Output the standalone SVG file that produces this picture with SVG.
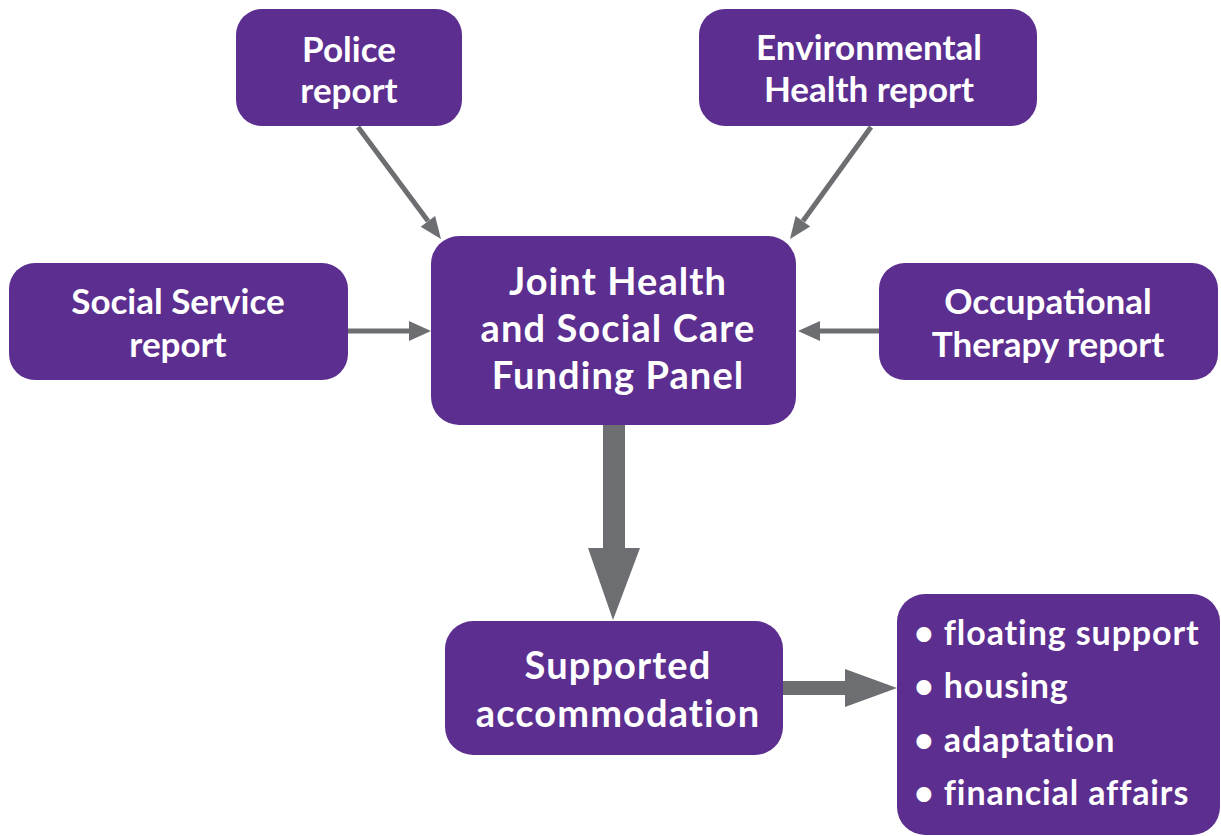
<svg xmlns="http://www.w3.org/2000/svg" width="1221" height="836" viewBox="0 0 1221 836">
<style>
.box{fill:#5b2e8f}
.t{fill:#fff;font-family:Lato,"Open Sans",sans-serif;font-weight:bold;text-anchor:middle}
.s{font-size:35px}
.b{font-size:38px;letter-spacing:1.1px}
.l{font-size:34px;text-anchor:start;letter-spacing:0.9px}
.ln{stroke:#6d6e71;stroke-width:5;fill:none}
.ah{fill:#6d6e71}
</style>
<rect width="1221" height="836" fill="#fff"/>
<g id="connectors">
<line class="ln" x1="358" y1="127" x2="428" y2="221"/>
<polygon class="ah" points="420.7,226.7 435.1,215.9 441,239"/>
<line class="ln" x1="871" y1="127" x2="803" y2="221"/>
<polygon class="ah" points="810.2,226.5 795.6,215.9 790,239"/>
<line class="ln" x1="348" y1="331" x2="411" y2="331"/>
<polygon class="ah" points="409,321 431,331 409,341"/>
<line class="ln" x1="879" y1="331" x2="818" y2="331"/>
<polygon class="ah" points="820,321 798,331 820,341"/>
<polygon class="ah" points="603,425 625,425 625,548 640,548 613,620 588,548 603,548"/>
<polygon class="ah" points="783,681 845,681 845,669 897,688 845,707 845,695 783,695"/>
</g>
<g id="police">
<rect class="box" x="236" y="9" width="226" height="117" rx="26"/>
<text class="t s" x="349" y="62">Police</text>
<text class="t s" x="349" y="103">report</text>
</g>
<g id="environmental">
<rect class="box" x="699" y="9" width="338" height="117" rx="26"/>
<text class="t s" x="869" y="60">Environmental</text>
<text class="t s" x="869" y="102">Health report</text>
</g>
<g id="social">
<rect class="box" x="9" y="263" width="339" height="117" rx="26"/>
<text class="t s" x="178" y="314">Social Service</text>
<text class="t s" x="178" y="357">report</text>
</g>
<g id="occupational">
<rect class="box" x="879" y="263" width="339" height="117" rx="26"/>
<text class="t s" x="1048" y="314">Occupational</text>
<text class="t s" x="1048" y="357">Therapy report</text>
</g>
<g id="panel">
<rect class="box" x="431" y="236" width="365" height="189" rx="28"/>
<text class="t b" x="618" y="295">Joint Health</text>
<text class="t b" x="618" y="342">and Social Care</text>
<text class="t b" x="618" y="389">Funding Panel</text>
</g>
<g id="supported">
<rect class="box" x="445" y="621" width="338" height="134" rx="28"/>
<text class="t b" x="618" y="679">Supported</text>
<text class="t b" x="618" y="727">accommodation</text>
</g>
<g id="list">
<rect class="box" x="897" y="594" width="323" height="241" rx="28"/>
<g class="t l">
<text x="914" y="645">• floating support</text>
<text x="914" y="698">• housing</text>
<text x="914" y="752">• adaptation</text>
<text x="914" y="805">• financial affairs</text>
</g>
</g>
</svg>
